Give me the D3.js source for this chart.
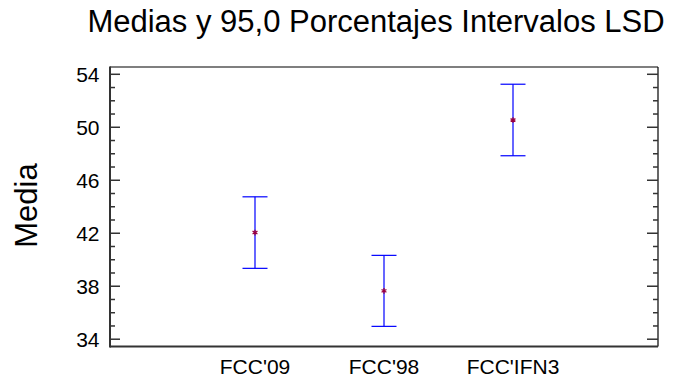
<!DOCTYPE html>
<html>
<head>
<meta charset="utf-8">
<script src="https://cdn.jsdelivr.net/npm/d3@7"></script>
<style>
  html, body { margin: 0; padding: 0; background: #fff; }
  svg { display: block; font-family: "Liberation Sans", Arial, sans-serif; }
</style>
</head>
<body>
<svg id="chart" width="685" height="381"></svg>
<script>
// Group means and LSD half-widths (95%)
const categories = ["FCC'09", "FCC'98", "FCC'IFN3"];
const means = [42.05, 37.65, 50.55];
const halfWidths = [2.7, 2.68, 2.7];
const yTicks = [34, 38, 42, 46, 50, 54];
const yMinorTicks = d3.range(34, 55, 1);

const title = "Medias y 95,0 Porcentajes Intervalos LSD";
const yLabel = "Media";

const svg = d3.select("#chart");
const plotLeft = 110, plotRight = 658, plotTop = 67, plotBottom = 346.5;

const x = d3.scalePoint().domain(categories).range([plotLeft, plotRight]).padding(1.124);
const y = d3.scaleLinear().domain([33.45, 54.55]).range([plotBottom, plotTop]);

// Title
svg.append("text")
  .attr("x", 376).attr("y", 32)
  .attr("text-anchor", "middle")
  .attr("font-size", 31)
  .attr("fill", "#000")
  .text(title);

// Y axis label
svg.append("text")
  .attr("transform", `translate(37,205.5) rotate(-90)`)
  .attr("text-anchor", "middle")
  .attr("font-size", 31)
  .attr("fill", "#000")
  .text(yLabel);

// Frame: top and right in black
svg.append("line").attr("x1", plotLeft).attr("x2", plotRight).attr("y1", plotTop).attr("y2", plotTop)
  .attr("stroke", "#000").attr("stroke-width", 1.2);
svg.append("line").attr("x1", plotRight).attr("x2", plotRight).attr("y1", plotTop).attr("y2", plotBottom)
  .attr("stroke", "#000").attr("stroke-width", 1.2);

// Left ticks (major and minor) pointing inward, with labels
const gl = svg.append("g");
gl.selectAll("line").data(yMinorTicks).join("line")
  .attr("x1", plotLeft).attr("x2", d => plotLeft + (yTicks.includes(d) ? 10 : 5))
  .attr("y1", d => y(d)).attr("y2", d => y(d))
  .attr("stroke", "#333").attr("stroke-width", 1.5);
gl.selectAll("text").data(yTicks).join("text")
  .attr("x", 99.5).attr("y", d => y(d))
  .attr("dy", "0.36em")
  .attr("text-anchor", "end")
  .attr("font-size", 21)
  .attr("fill", "#000")
  .text(d => d);

// Right ticks pointing inward
svg.append("g").selectAll("line").data(yMinorTicks).join("line")
  .attr("x1", plotRight).attr("x2", d => plotRight - (yTicks.includes(d) ? 11 : 5))
  .attr("y1", d => y(d)).attr("y2", d => y(d))
  .attr("stroke", "#333").attr("stroke-width", 1.5);

// Axis lines
svg.append("line").attr("x1", plotLeft).attr("x2", plotLeft).attr("y1", plotTop - 0.5).attr("y2", plotBottom + 1)
  .attr("stroke", "#333").attr("stroke-width", 2);
svg.append("line").attr("x1", plotLeft).attr("x2", plotRight).attr("y1", plotBottom).attr("y2", plotBottom)
  .attr("stroke", "#333").attr("stroke-width", 2);

// X category labels
svg.append("g").selectAll("text").data(categories).join("text")
  .attr("x", d => x(d)).attr("y", 374)
  .attr("text-anchor", "middle")
  .attr("font-size", 21)
  .attr("fill", "#000")
  .text(d => d);

// Interval bars
const bars = svg.append("g").selectAll("g").data(categories).join("g");
bars.append("line")
  .attr("x1", d => x(d)).attr("x2", d => x(d))
  .attr("y1", (d, i) => y(means[i] + halfWidths[i]))
  .attr("y2", (d, i) => y(means[i] - halfWidths[i]))
  .attr("stroke", "#0000ff").attr("stroke-width", 1.2);
[1, -1].forEach(s => {
  bars.append("line")
    .attr("x1", d => x(d) - 12.5).attr("x2", d => x(d) + 12.5)
    .attr("y1", (d, i) => y(means[i] + s * halfWidths[i]))
    .attr("y2", (d, i) => y(means[i] + s * halfWidths[i]))
    .attr("stroke", "#0000ff").attr("stroke-width", 1.2);
});

// Mean markers
bars.append("path")
  .attr("transform", (d, i) => `translate(${x(d)},${y(means[i])})`)
  .attr("d", d3.symbol().type(d3.symbolAsterisk).size(22))
  .attr("stroke", "#990040").attr("stroke-width", 1.3).attr("fill", "none");
</script>
</body>
</html>
